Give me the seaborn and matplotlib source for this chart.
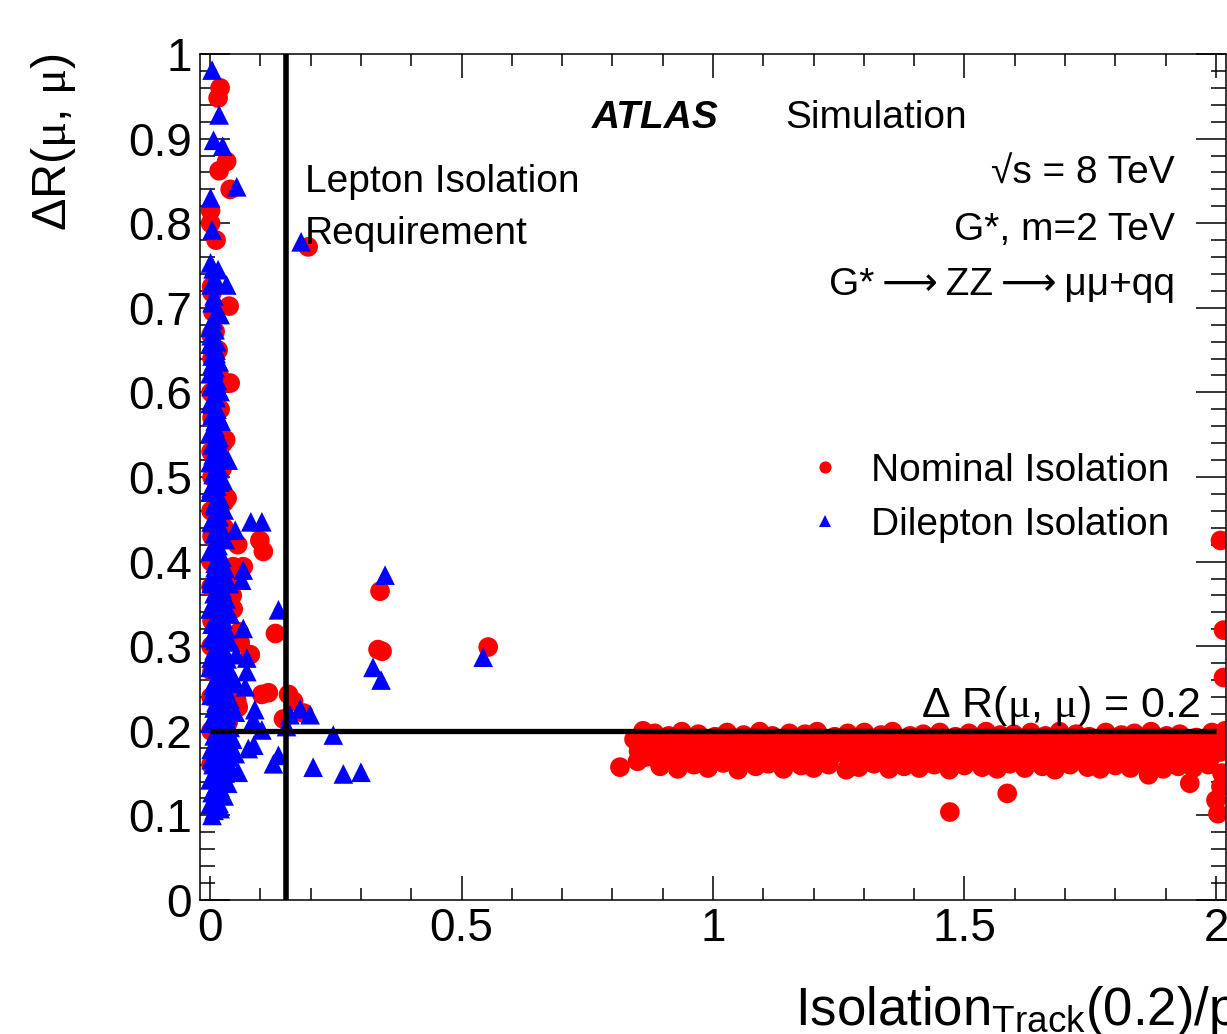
import numpy as np
import pandas as pd
import matplotlib
matplotlib.use("Agg")
import matplotlib.pyplot as plt
from matplotlib.ticker import MultipleLocator
import seaborn as sns

sns.set_style("ticks", {"axes.edgecolor": "black", "text.color": "black",
                        "xtick.color": "black", "ytick.color": "black",
                        "axes.labelcolor": "black"})
plt.rcParams['font.family'] = ['Liberation Sans', 'DejaVu Sans']
plt.rcParams['mathtext.fontset'] = 'custom'
plt.rcParams['mathtext.rm'] = 'Liberation Sans'
plt.rcParams['mathtext.it'] = 'Liberation Serif'

# --- Nominal isolation (red circles) ---
# column near zero isolation
nominal_col_x = [0.020, 0.016, 0.033, 0.018, 0.040, 0.001, 0.001, 0.012, 0.003, 0.004,
                 0.038, 0.006, 0.010, 0.002, 0.040, 0.031, 0.034, 0.002, 0.032, 0.002,
                 0.036, 0.002, 0.042, 0.004, 0.036, 0.002, 0.032, 0.004, 0.036, 0.002,
                 0.044, 0.002, 0.032, 0.004, 0.028, 0.002, 0.028, 0.004, 0.024, 0.002,
                 0.026, 0.004, 0.020, 0.002, 0.018, 0.004, 0.016, 0.053, 0.056, 0.058]
nominal_col_y = [0.960, 0.948, 0.873, 0.862, 0.840, 0.815, 0.800, 0.780, 0.725, 0.718,
                 0.702, 0.695, 0.672, 0.668, 0.611, 0.544, 0.475, 0.160, 0.170, 0.200,
                 0.210, 0.240, 0.230, 0.270, 0.260, 0.300, 0.310, 0.330, 0.340, 0.370,
                 0.360, 0.400, 0.390, 0.430, 0.440, 0.460, 0.470, 0.500, 0.510, 0.530,
                 0.540, 0.570, 0.580, 0.600, 0.620, 0.640, 0.650, 0.236, 0.228, 0.317]
# scattered points between the column and the band
nominal_out_x = [0.055, 0.099, 0.106, 0.066, 0.046, 0.040, 0.043, 0.046, 0.060, 0.080,
                 0.130, 0.103, 0.116, 0.156, 0.166, 0.146, 0.186, 0.338, 0.334, 0.342,
                 0.553, 0.195]
nominal_out_y = [0.420, 0.425, 0.412, 0.394, 0.394, 0.376, 0.360, 0.344, 0.304, 0.290,
                 0.315, 0.243, 0.245, 0.243, 0.235, 0.214, 0.221, 0.365, 0.296, 0.294,
                 0.299, 0.772]
# dense band just below dR = 0.2 at large isolation
nominal_band_x = [
    0.815, 0.843, 0.865, 0.861, 0.850, 0.852,
    0.884, 0.912, 0.938, 0.971, 1.004, 1.028, 1.061, 1.093, 1.118, 1.152,
    1.183, 1.207, 1.242, 1.268, 1.301, 1.334, 1.357, 1.392, 1.418, 1.451,
    1.482, 1.509, 1.543, 1.571, 1.598, 1.632, 1.661, 1.689, 1.722, 1.748,
    1.781, 1.812, 1.838, 1.871, 1.902, 1.928, 1.961, 1.992,
    0.872, 0.897, 0.926, 0.955, 0.987, 1.016, 1.044, 1.077, 1.104, 1.135,
    1.167, 1.196, 1.226, 1.255, 1.286, 1.317, 1.346, 1.375, 1.406, 1.435,
    1.466, 1.496, 1.527, 1.556, 1.585, 1.616, 1.647, 1.676, 1.705, 1.736,
    1.765, 1.796, 1.826, 1.855, 1.886, 1.915, 1.946, 1.977, 2.003,
    0.884, 0.913, 0.941, 0.972, 1.001, 1.031, 1.059, 1.091, 1.121, 1.149,
    1.181, 1.211, 1.239, 1.271, 1.299, 1.331, 1.361, 1.389, 1.421, 1.449,
    1.479, 1.511, 1.539, 1.569, 1.601, 1.629, 1.659, 1.691, 1.719, 1.751,
    1.779, 1.809, 1.841, 1.869, 1.899, 1.931, 1.959, 1.989,
    0.895, 0.930, 0.962, 0.990, 1.020, 1.050, 1.085, 1.110, 1.140, 1.175,
    1.200, 1.230, 1.265, 1.290, 1.320, 1.350, 1.380, 1.410, 1.440, 1.470,
    1.500, 1.535, 1.565, 1.590, 1.620, 1.655, 1.680, 1.710, 1.745, 1.770,
    1.800, 1.830, 1.860, 1.895, 1.925, 1.955, 1.985,
    1.866, 1.948, 1.471, 1.585, 2.004, 2.000, 2.010, 2.012, 2.008, 2.010,
    2.009, 2.015, 2.015, 2.018]
nominal_band_y = [
    0.157, 0.190, 0.169, 0.200, 0.164, 0.176,
    0.197, 0.194, 0.199, 0.196, 0.193, 0.198, 0.195, 0.199, 0.194, 0.197,
    0.196, 0.199, 0.193, 0.197, 0.198, 0.195, 0.199, 0.194, 0.196, 0.198,
    0.193, 0.197, 0.199, 0.195, 0.196, 0.198, 0.194, 0.199, 0.196, 0.193,
    0.198, 0.195, 0.197, 0.199, 0.194, 0.196, 0.192, 0.198,
    0.183, 0.181, 0.185, 0.180, 0.184, 0.182, 0.179, 0.185, 0.181, 0.183,
    0.180, 0.184, 0.182, 0.185, 0.179, 0.183, 0.181, 0.184, 0.180, 0.185,
    0.182, 0.179, 0.184, 0.181, 0.183, 0.180, 0.185, 0.182, 0.179, 0.184,
    0.181, 0.183, 0.180, 0.185, 0.182, 0.179, 0.184, 0.181, 0.183,
    0.168, 0.171, 0.166, 0.169, 0.172, 0.167, 0.170, 0.166, 0.171, 0.168,
    0.169, 0.166, 0.172, 0.167, 0.170, 0.168, 0.166, 0.171, 0.169, 0.167,
    0.172, 0.168, 0.166, 0.170, 0.167, 0.171, 0.169, 0.166, 0.168, 0.172,
    0.167, 0.170, 0.166, 0.169, 0.171, 0.167, 0.170, 0.168,
    0.158, 0.155, 0.160, 0.156, 0.162, 0.154, 0.158, 0.161, 0.155, 0.159,
    0.156, 0.160, 0.154, 0.157, 0.161, 0.155, 0.158, 0.156, 0.160, 0.154,
    0.159, 0.157, 0.155, 0.161, 0.156, 0.158, 0.154, 0.160, 0.157, 0.155,
    0.159, 0.156, 0.161, 0.155, 0.158, 0.156, 0.160,
    0.148, 0.138, 0.104, 0.126, 0.102, 0.118, 0.134, 0.150, 0.175, 0.190,
    0.425, 0.319, 0.263, 0.200]
nominal_band2_x = [
    0.878, 0.905, 0.934, 0.963, 0.994, 1.022, 1.052, 1.083, 1.111, 1.142,
    1.173, 1.201, 1.232, 1.262, 1.293, 1.323, 1.352, 1.383, 1.412, 1.443,
    1.473, 1.503, 1.533, 1.563, 1.592, 1.623, 1.653, 1.682, 1.713, 1.742,
    1.773, 1.803, 1.832, 1.862, 1.892, 1.922, 1.952, 1.982]
nominal_band2_y = [
    0.189, 0.176, 0.188, 0.175, 0.190, 0.177, 0.187, 0.174, 0.189, 0.176,
    0.188, 0.175, 0.190, 0.177, 0.187, 0.174, 0.189, 0.176, 0.188, 0.175,
    0.190, 0.177, 0.187, 0.174, 0.189, 0.176, 0.188, 0.175, 0.190, 0.177,
    0.187, 0.174, 0.189, 0.176, 0.188, 0.175, 0.190, 0.177]

# --- Dilepton isolation (blue triangles) ---
dilepton_col_x = [
    0.004, 0.018, 0.007, 0.025, 0.053, 0.001, 0.004, 0.001, 0.016, 0.010,
    0.033, 0.020, 0.000, 0.013,
    0.004, 0.020, 0.000, 0.012, 0.028, 0.006, 0.020, 0.035, 0.000, 0.014,
    0.030, 0.042, 0.006, 0.022, 0.038, 0.048, 0.002, 0.016, 0.032, 0.045,
    0.010, 0.026, 0.040, 0.000, 0.018, 0.034, 0.050, 0.008, 0.024, 0.040,
    0.002, 0.016, 0.030, 0.045, 0.010, 0.026, 0.040, 0.000, 0.018, 0.034,
    0.052, 0.008, 0.024, 0.040, 0.002, 0.016, 0.032, 0.010, 0.026, 0.040,
    0.000, 0.018, 0.032, 0.008, 0.024, 0.038, 0.002, 0.016, 0.030, 0.010,
    0.024, 0.000, 0.016, 0.030, 0.008, 0.022, 0.002, 0.016, 0.028, 0.008,
    0.020, 0.000, 0.014, 0.026, 0.006, 0.018, 0.000, 0.012, 0.024, 0.004,
    0.016, 0.000, 0.010, 0.022, 0.004, 0.014, 0.000, 0.010, 0.020, 0.004,
    0.014, 0.000, 0.010, 0.018, 0.004, 0.012, 0.000, 0.008]
dilepton_col_y = [
    0.981, 0.928, 0.898, 0.891, 0.843, 0.830, 0.792, 0.753, 0.745, 0.733,
    0.727, 0.692, 0.677, 0.660,
    0.100, 0.108, 0.113, 0.118, 0.123, 0.128, 0.133, 0.138, 0.142, 0.146,
    0.150, 0.155, 0.160, 0.164, 0.169, 0.174, 0.178, 0.182, 0.186, 0.190,
    0.195, 0.199, 0.204, 0.209, 0.213, 0.218, 0.222, 0.227, 0.232, 0.237,
    0.242, 0.246, 0.251, 0.256, 0.260, 0.265, 0.270, 0.275, 0.280, 0.285,
    0.290, 0.295, 0.300, 0.305, 0.310, 0.315, 0.320, 0.326, 0.332, 0.338,
    0.344, 0.350, 0.356, 0.362, 0.368, 0.374, 0.380, 0.386, 0.392, 0.398,
    0.405, 0.412, 0.419, 0.426, 0.433, 0.440, 0.447, 0.454, 0.461, 0.468,
    0.475, 0.482, 0.489, 0.496, 0.503, 0.510, 0.517, 0.524, 0.531, 0.538,
    0.545, 0.552, 0.559, 0.566, 0.573, 0.580, 0.587, 0.594, 0.601, 0.608,
    0.615, 0.622, 0.629, 0.636, 0.643, 0.650, 0.657, 0.664]
dilepton_core_x = [
    0.008, 0.018, 0.004, 0.014, 0.022, 0.010, 0.002, 0.016, 0.026, 0.008,
    0.018, 0.004, 0.030, 0.012, 0.020, 0.006, 0.028, 0.014, 0.002, 0.022,
    0.010, 0.018, 0.004, 0.016, 0.024, 0.008, 0.014, 0.002, 0.020, 0.010,
    0.016, 0.006, 0.022, 0.012, 0.004, 0.018, 0.010, 0.014, 0.002, 0.020,
    0.008, 0.016, 0.006, 0.012, 0.018, 0.004, 0.010, 0.016, 0.006, 0.012,
    0.002, 0.014, 0.008, 0.004, 0.012, 0.008, 0.002, 0.010, 0.006, 0.012,
    0.004, 0.008, 0.002, 0.010, 0.006]
dilepton_core_y = [
    0.106, 0.114, 0.127, 0.134, 0.146, 0.153, 0.166, 0.174, 0.187, 0.194,
    0.206, 0.213, 0.226, 0.234, 0.247, 0.254, 0.266, 0.273, 0.286, 0.294,
    0.307, 0.314, 0.326, 0.333, 0.346, 0.354, 0.367, 0.374, 0.386, 0.393,
    0.406, 0.414, 0.427, 0.434, 0.446, 0.453, 0.466, 0.474, 0.487, 0.494,
    0.506, 0.513, 0.526, 0.534, 0.547, 0.554, 0.566, 0.573, 0.586, 0.594,
    0.607, 0.614, 0.626, 0.633, 0.646, 0.654, 0.667, 0.674, 0.686, 0.693,
    0.706, 0.714, 0.727, 0.734, 0.746]
dilepton_out_x = [0.036, 0.050, 0.081, 0.103, 0.066, 0.063, 0.136, 0.066, 0.073, 0.073,
                  0.050, 0.070, 0.179, 0.199, 0.159, 0.089, 0.086, 0.103, 0.152, 0.245,
                  0.076, 0.087, 0.136, 0.126, 0.205, 0.265, 0.300, 0.056, 0.050, 0.348,
                  0.324, 0.340, 0.543, 0.181]
dilepton_out_y = [0.520, 0.437, 0.447, 0.447, 0.390, 0.378, 0.343, 0.321, 0.286, 0.270,
                  0.258, 0.252, 0.226, 0.219, 0.219, 0.225, 0.213, 0.201, 0.205, 0.195,
                  0.179, 0.183, 0.171, 0.161, 0.157, 0.149, 0.151, 0.151, 0.173, 0.384,
                  0.275, 0.260, 0.287, 0.778]

nom_x = nominal_col_x + nominal_out_x + nominal_band_x + nominal_band2_x
nom_y = nominal_col_y + nominal_out_y + nominal_band_y + nominal_band2_y
dil_x = dilepton_col_x + dilepton_core_x + dilepton_out_x
dil_y = dilepton_col_y + dilepton_core_y + dilepton_out_y

df = pd.DataFrame({
    "iso": nom_x + dil_x,
    "dr": nom_y + dil_y,
    "kind": ["Nominal Isolation"] * len(nom_x) + ["Dilepton Isolation"] * len(dil_x),
})

W, H = 1227, 1034
fig = plt.figure(figsize=(W / 100, H / 100), dpi=100)
ax = fig.add_axes([200 / W, 134 / H, 1026 / W, 846 / H])

sns.scatterplot(data=df, x="iso", y="dr", hue="kind", style="kind",
                palette={"Nominal Isolation": "#ff0000", "Dilepton Isolation": "#0000ff"},
                markers={"Nominal Isolation": "o", "Dilepton Isolation": "^"},
                s=200, linewidth=0, ax=ax)

# isolation cut and dR cut lines
ax.axvline(0.15, color="black", lw=4)
ax.hlines(0.2, 0, 2, color="black", lw=3.8)

ax.set_xlim(-0.02, 2.02)
ax.set_ylim(0, 1)
ax.set_xticks([0, 0.5, 1, 1.5, 2], ["0", "0.5", "1", "1.5", "2"])
ax.set_yticks(np.arange(0, 1.01, 0.1),
              ["0", "0.1", "0.2", "0.3", "0.4", "0.5", "0.6", "0.7", "0.8", "0.9", "1"])
ax.xaxis.set_minor_locator(MultipleLocator(0.1))
ax.yaxis.set_minor_locator(MultipleLocator(0.02))
ax.tick_params(which="both", direction="in", top=True, right=True, width=1.1,
               labelsize=33)
ax.tick_params(axis="x", which="major", length=17, pad=5)
ax.tick_params(axis="x", which="minor", length=8.6)
ax.tick_params(axis="y", which="major", length=21.6, pad=6)
ax.tick_params(axis="y", which="minor", length=10.8)
for sp in ax.spines.values():
    sp.set_linewidth(1.1)
ax.set_xlabel("")
ax.set_ylabel("")

# axis titles (ROOT style, aligned to axis ends)
fig.text(795 / W, (H - 1025) / H, r"Isolation$_{\mathrm{Track}}$(0.2)/p$_{\mathrm{T}}$",
         fontsize=38, ha="left", va="baseline")
fig.text(54 / W, (H - 53) / H, r"$\Delta$R($\mu$, $\mu$)", fontsize=35,
         rotation=90, ha="center", va="top")

# labels
ax.text(0.759, 0.9125, "ATLAS", fontsize=28, fontweight="bold", fontstyle="italic")
ax.text(1.143, 0.9125, "Simulation", fontsize=28)
ax.text(1.918, 0.847, "√s = 8 TeV", fontsize=28, ha="right")
ax.text(1.918, 0.780, "G*, m=2 TeV", fontsize=28, ha="right")
ax.text(1.918, 0.715, "G*\u2009⟶\u2009ZZ\u2009⟶\u2009μμ+qq", fontsize=28, ha="right")
ax.text(0.189, 0.837, "Lepton Isolation", fontsize=28)
ax.text(0.189, 0.776, "Requirement", fontsize=28)
ax.text(1.968, 0.216, r"$\Delta$ R($\mu$, $\mu$) = 0.2", fontsize=31, ha="right")

sns.move_legend(ax, "upper left", bbox_to_anchor=(806 / W, (H - 453) / H),
                bbox_transform=fig.transFigure, title=None, frameon=False,
                fontsize=28, markerscale=0.62, handlelength=1.0, handletextpad=0.66,
                labelspacing=0.46, borderpad=0, borderaxespad=0)

fig.savefig("out.png", dpi=100)
